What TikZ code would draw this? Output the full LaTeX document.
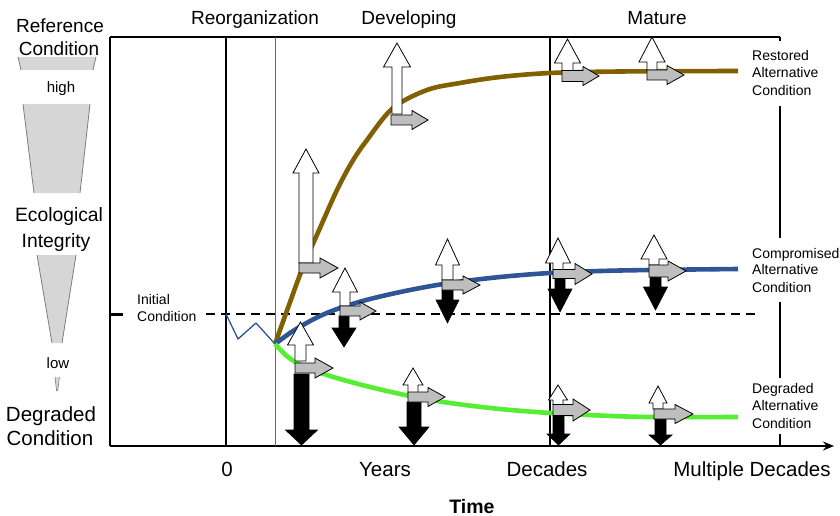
\documentclass[tikz,border=0pt]{standalone}
\usepackage{fontspec}
\setmainfont{Liberation Sans}
\usetikzlibrary{arrows.meta}
\definecolor{restored}{RGB}{128,96,0}
\definecolor{compromised}{RGB}{47,85,151}
\definecolor{degraded}{RGB}{85,238,50}
\definecolor{arrgrey}{RGB}{190,190,190}
\definecolor{wedgefill}{RGB}{214,214,214}
\definecolor{wedgeline}{RGB}{125,125,125}

% vertical block arrow: style, centre x, half shaft, half head, tip y, head base y, tail y
\newcommand{\vArrow}[7]{%
  \filldraw[#1] (#2-#3,#7) -- (#2-#3,#6) -- (#2-#4,#6) -- (#2,#5)
    -- (#2+#4,#6) -- (#2+#3,#6) -- (#2+#3,#7) -- cycle;}
% horizontal block arrow: style, tail x, head start x, tip x, centre y, half shaft, half head
\newcommand{\hArrow}[7]{%
  \filldraw[#1] (#2,#5-#6) -- (#3,#5-#6) -- (#3,#5-#7) -- (#4,#5)
    -- (#3,#5+#7) -- (#3,#5+#6) -- (#2,#5+#6) -- cycle;}

\begin{document}
\begin{tikzpicture}[x=1pt,y=-1pt,
  big/.style={font=\fontsize{19}{23}\selectfont, inner sep=0pt, anchor=base},
  bigger/.style={font=\fontsize{20.5}{24}\selectfont, inner sep=0pt, anchor=base},
  small/.style={font=\fontsize{14}{17}\selectfont, inner sep=0pt, anchor=base west},
  tiny/.style={font=\fontsize{15}{18}\selectfont, inner sep=0pt, anchor=base},
  frameline/.style={line width=1.2pt},
  curve/.style={line width=4.6pt},
  wedgeside/.style={draw=wedgeline, line width=0.8pt},
  whitearr/.style={fill=white, draw=black, line width=0.8pt},
  greyarr/.style={fill=arrgrey, draw=black, line width=0.8pt},
  blackarr/.style={fill=black, draw=black, line width=0.6pt},
  initline/.style={line width=2.2pt, dash pattern=on 9pt off 6pt}]
\useasboundingbox (0,0) rectangle (840,516);

% ---------- frame and time axis ----------
\coordinate (tl) at (110,37);
\coordinate (tr) at (780,37);
\coordinate (bl) at (110,446);
\coordinate (axisend) at (834,446);
\draw[frameline] (tl) -- (tr);
\draw[line width=2pt] (tl) -- (bl);
\draw[line width=2pt, -{Stealth[length=11pt,width=9pt]}] (bl) -- (axisend);
% phase boundaries
\draw[line width=1.1pt] (226,37) -- (226,446);
\draw[line width=1pt, black!60] (275,37) -- (275,446);
\draw[line width=1.1pt] (550,37) -- (550,446);
% right edge, interrupted by the end-state labels
\draw[frameline] (tr) -- (780,41);
\draw[frameline] (780,106) -- (780,238);
\draw[frameline] (780,302) -- (780,378);
\draw[frameline] (780,434) -- (780,446);

% ---------- initial condition ----------
\draw[line width=3pt] (110,314) -- (123,314);
\draw[initline] (206,314) -- (760,314);
\node[small] (init1) at (137,304) {Initial};
\node[small] (init2) at (137,321) {Condition};
\draw[compromised, line width=1.3pt, line join=round]
  (226,314) -- (238,339) -- (256,323) -- (275,344);

% ---------- trajectories ----------
\draw[curve, restored] plot[smooth, tension=0.55] coordinates {
  (275,344) (289,305) (303,267) (320,228) (337,190) (352,162) (367,140)
  (393,108) (427,90) (460,83) (500,77) (550,73) (620,71.5) (738,71)};
\draw[curve, compromised] plot[smooth, tension=0.55] coordinates {
  (275,344) (290,333) (303,325) (320,316) (340,308) (370,299) (410,290)
  (450,283) (500,277) (550,273) (600,271) (650,270) (738,269)};
\draw[curve, degraded] plot[smooth, tension=0.55] coordinates {
  (275,344) (288,357) (303,366) (330,376) (370,387) (410,396) (450,403)
  (500,409) (550,413) (600,415.5) (650,417) (738,417)};

% ---------- drivers along the restored trajectory ----------
\vArrow{whitearr}{306}{7}{13}{149}{173}{263}
\hArrow{greyarr}{299}{320}{338}{268}{5}{10}
\vArrow{whitearr}{397}{5}{13.5}{43}{67}{114}
\hArrow{greyarr}{391}{412}{428}{120}{5}{9.5}
\vArrow{whitearr}{567.5}{5.5}{13}{39}{63}{71}
\hArrow{greyarr}{562}{583}{599}{76}{5.5}{9.5}
\vArrow{whitearr}{652}{5}{13}{37}{62}{70}
\hArrow{greyarr}{647}{667}{684}{75}{5}{9.5}

% ---------- drivers along the compromised trajectory ----------
\vArrow{whitearr}{345}{5}{12.5}{268}{292}{306}
\vArrow{blackarr}{344}{5}{12}{347}{328}{316}
\hArrow{greyarr}{340}{360}{376}{311}{5}{9}
\vArrow{whitearr}{447.5}{5.5}{12}{239}{265}{280}
\vArrow{blackarr}{447.5}{5.5}{11.5}{323}{300}{290}
\hArrow{greyarr}{442}{463}{480}{285}{5}{9}
\vArrow{whitearr}{558}{5}{12.5}{238}{263}{270}
\vArrow{blackarr}{560}{5}{12}{312}{289}{279}
\hArrow{greyarr}{553}{575}{592}{274}{4.5}{10.5}
\vArrow{whitearr}{654}{5}{13}{235}{259}{265}
\vArrow{blackarr}{655.5}{5.5}{12}{310}{287}{277}
\hArrow{greyarr}{649}{668}{686}{271}{6}{10}

% ---------- drivers along the degraded trajectory ----------
\vArrow{whitearr}{300.5}{5.5}{13}{322}{345}{361}
\vArrow{blackarr}{301.5}{7.5}{16}{445}{430}{374}
\hArrow{greyarr}{295}{315}{333}{368}{5}{10}
\vArrow{whitearr}{413}{5}{10}{368}{385}{393}
\vArrow{blackarr}{414}{7}{15}{445}{427}{402}
\hArrow{greyarr}{408}{428}{445}{397}{5}{9.5}
\vArrow{whitearr}{558}{5}{9.5}{385}{400}{405}
\vArrow{blackarr}{558.5}{5.5}{11.5}{445}{434}{416}
\hArrow{greyarr}{553}{573}{590}{410}{5.5}{11}
\vArrow{whitearr}{658}{5}{9}{386}{403}{409}
\vArrow{blackarr}{660.5}{5.5}{11.5}{445}{435}{419}
\hArrow{greyarr}{654}{675}{693}{414}{5}{9.5}

% ---------- end-state labels ----------
\node[small] (res1) at (752,61) {Restored};
\node[small] (res2) at (752,78) {Alternative};
\node[small] (res3) at (752,96) {Condition};
\node[small] (com1) at (752,258) {Compromised};
\node[small] (com2) at (752,274) {Alternative};
\node[small] (com3) at (752,292) {Condition};
\node[small] (deg1) at (752,393) {Degraded};
\node[small] (deg2) at (752,410) {Alternative};
\node[small] (deg3) at (752,428) {Condition};

% ---------- phase and time labels ----------
\node[big] (reorg) at (255,25) {Reorganization};
\node[big] (devel) at (409,25) {Developing};
\node[big] (mature) at (657,25) {Mature};
\node[bigger] (t0) at (227,476) {0};
\node[bigger] (years) at (385,476) {Years};
\node[bigger] (decades) at (547,476) {Decades};
\node[bigger] (multi) at (752,476) {Multiple Decades};
\node[big, font=\fontsize{19.5}{23}\selectfont\bfseries] (time) at (472,513) {Time};

% ---------- ecological integrity scale ----------
\fill[wedgefill] (18,57) -- (96,57) -- (93,70) -- (21,70) -- cycle;
\draw[wedgeside] (18,57) -- (21,70) (96,57) -- (93,70);
\fill[wedgefill] (23,104) -- (90,104) -- (80,193) -- (34,193) -- cycle;
\draw[wedgeside] (23,104) -- (34,193) (90,104) -- (80,193);
\fill[wedgefill] (37,255) -- (76,255) -- (62,343) -- (52,343) -- cycle;
\draw[wedgeside] (37,255) -- (52,343) (76,255) -- (62,343);
\fill[wedgefill] (55,377) -- (59.5,377) -- (57.6,391) -- (56.6,391) -- cycle;
\draw[wedgeside, line width=0.6pt] (55,377) -- (56.6,391) (59.5,377) -- (57.6,391);

\node[big] (ref1) at (60,33) {Reference};
\node[big] (ref2) at (59,56) {Condition};
\node[tiny] (high) at (61,93) {high};
\node[big, font=\fontsize{19.3}{23}\selectfont] (eco1) at (59,221) {Ecological};
\node[big, font=\fontsize{19.3}{23}\selectfont] (eco2) at (56,247) {Integrity};
\node[tiny] (low) at (58,368) {low};
\node[bigger] (deg1l) at (51,421) {Degraded};
\node[bigger] (deg2l) at (50,445) {Condition};
\end{tikzpicture}
\end{document}
